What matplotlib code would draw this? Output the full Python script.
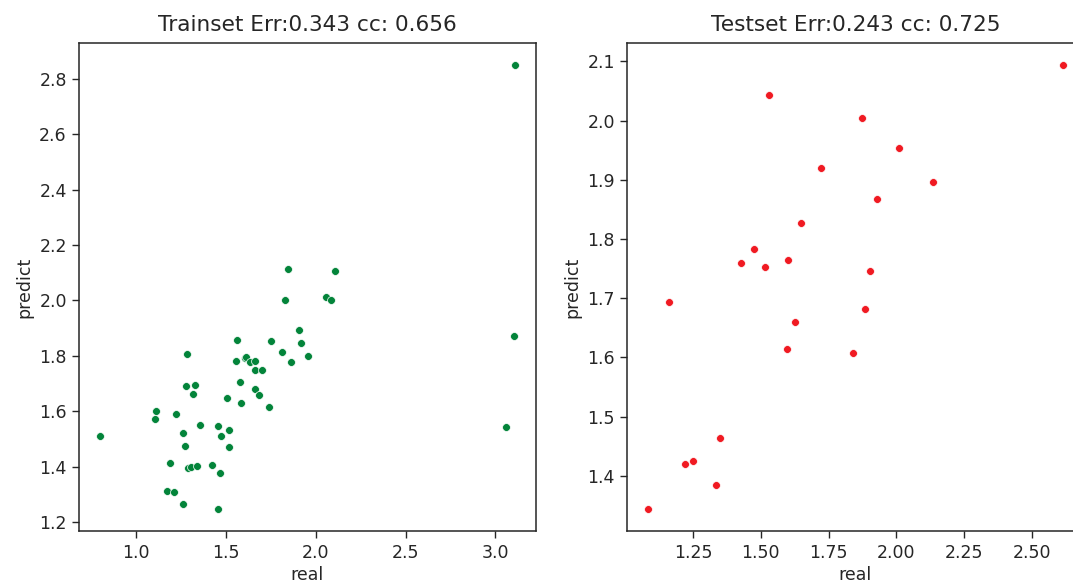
import matplotlib
matplotlib.use("Agg")
import matplotlib.pyplot as plt
from matplotlib.ticker import MultipleLocator, FormatStrFormatter

# Training set: measured vs. predicted values
train_real = [0.80, 1.107, 1.113, 1.222, 1.282, 1.276, 1.327, 1.317, 1.357, 1.260,
              1.274, 1.188, 1.288, 1.308, 1.339, 1.171, 1.210, 1.260, 1.458, 1.421,
              1.466, 1.456, 1.474, 1.518, 1.518, 1.508, 1.560, 1.554, 1.577, 1.583,
              1.607, 1.615, 1.633, 1.661, 1.663, 1.702, 1.665, 1.687, 1.738, 1.752,
              1.812, 1.863, 1.827, 1.907, 1.921, 1.958, 2.058, 2.083, 3.058, 3.103,
              1.847, 2.105, 3.109]
train_pred = [1.510, 1.571, 1.600, 1.590, 1.805, 1.690, 1.695, 1.661, 1.552, 1.520,
              1.476, 1.414, 1.395, 1.400, 1.404, 1.314, 1.309, 1.266, 1.247, 1.408,
              1.377, 1.548, 1.510, 1.534, 1.471, 1.648, 1.857, 1.781, 1.705, 1.629,
              1.792, 1.796, 1.779, 1.781, 1.748, 1.748, 1.680, 1.658, 1.614, 1.852,
              1.815, 1.777, 2.000, 1.895, 1.847, 1.801, 2.014, 2.000, 1.542, 1.871,
              2.115, 2.105, 2.848]

# Test set: measured vs. predicted values
test_real = [2.615, 1.529, 1.875, 2.011, 1.723, 2.134, 1.928, 1.650, 1.475, 1.426,
             1.514, 1.601, 1.904, 1.162, 1.884, 1.625, 1.598, 1.840, 1.348, 1.250,
             1.221, 1.333, 1.084]
test_pred = [2.093, 2.044, 2.004, 1.954, 1.920, 1.896, 1.867, 1.827, 1.783, 1.760,
             1.752, 1.765, 1.746, 1.693, 1.682, 1.660, 1.615, 1.607, 1.464, 1.426,
             1.420, 1.384, 1.344]

train_title = "Trainset Err:0.343 cc: 0.656"
test_title = "Testset Err:0.243 cc: 0.725"

W, H = 1073, 585
fig = plt.figure(figsize=(W / 100, H / 100), dpi=100)

ax_h = 488 / H
ax_b = (H - 531.3) / H
ax1 = fig.add_axes([79.3 / W, ax_b, 456.4 / W, ax_h])
# the second panel runs past the right edge of the canvas
ax2 = fig.add_axes([627.3 / W, ax_b, 456.4 / W, ax_h])

tick_fs = 12.5
label_fs = 12.5
title_fs = 15.6
ink = "#262626"

for ax, xr, yp, col, title in [
    (ax1, train_real, train_pred, "#03843a", train_title),
    (ax2, test_real, test_pred, "#f01a22", test_title),
]:
    ax.scatter(xr, yp, s=32, c=col, edgecolors="white", linewidths=0.5, zorder=3)
    ax.set_title(title, fontsize=title_fs, color=ink, pad=8.5)
    ax.set_xlabel("real", fontsize=label_fs, color=ink, labelpad=3)
    ax.set_ylabel("predict", fontsize=label_fs, color=ink, labelpad=4)
    ax.tick_params(labelsize=tick_fs, colors=ink, length=5, width=1.0, pad=4)
    for sp in ax.spines.values():
        sp.set_color(ink)
        sp.set_linewidth(1.1)

ax2.spines["right"].set_visible(False)

# Test panel uses quarter steps on the measured axis
ax2.xaxis.set_major_locator(MultipleLocator(0.25))
ax2.xaxis.set_major_formatter(FormatStrFormatter("%.2f"))

fig.savefig("out.png", dpi=100)
